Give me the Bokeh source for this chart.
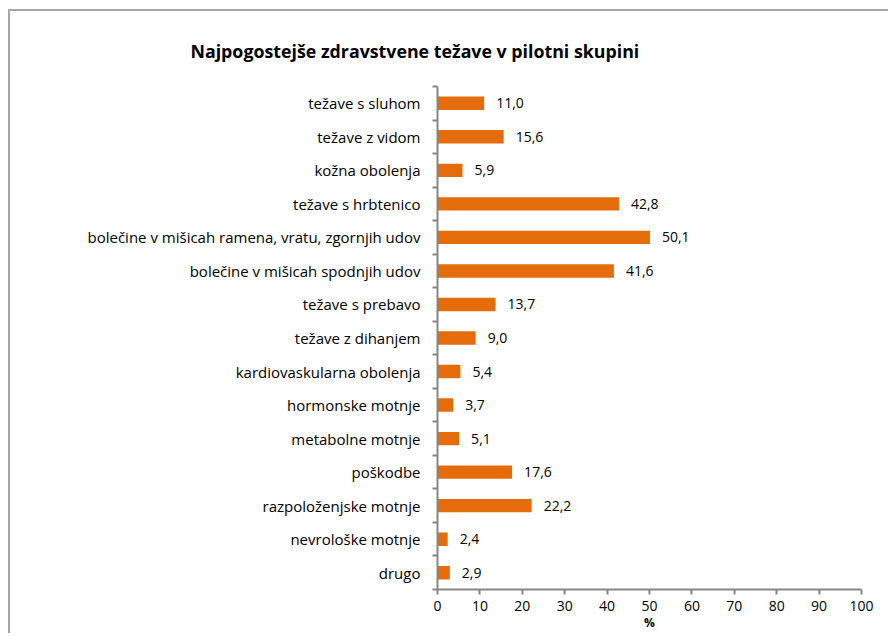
from bokeh.plotting import figure
from bokeh.models import FixedTicker, ColumnDataSource
from bokeh.core.properties import value
from bokeh.embed import file_html
from bokeh.resources import INLINE

categories = ["težave s sluhom", "težave z vidom", "kožna obolenja", "težave s hrbtenico",
              "bolečine v mišicah ramena, vratu, zgornjih udov", "bolečine v mišicah spodnjih udov",
              "težave s prebavo", "težave z dihanjem", "kardiovaskularna obolenja",
              "hormonske motnje", "metabolne motnje", "poškodbe", "razpoloženjske motnje",
              "nevrološke motnje", "drugo"]
values = [11.0, 15.6, 5.9, 42.8, 50.1, 41.6, 13.7, 9.0, 5.4, 3.7, 5.1, 17.6, 22.2, 2.4, 2.9]
x_ticks = [0, 10, 20, 30, 40, 50, 60, 70, 80, 90, 100]
title_text = "Najpogostejše zdravstvene težave v pilotni skupini"
x_label = "%"

FONT = "Open Sans"
n = len(categories)
ypos = [n - i - 0.5 for i in range(n)]
labels = [f"{v:.1f}".replace(".", ",") for v in values]

src = ColumnDataSource(dict(y=ypos, v=values, lab=labels, cat=categories))

p = figure(width=880, height=624, output_backend="svg", toolbar_location=None,
           x_range=(0, 100), y_range=(0, n), title=title_text,
           min_border_left=427, min_border_right=29, min_border_top=75, min_border_bottom=46)
p.outline_line_color = None
p.grid.grid_line_color = None
p.background_fill_color = "white"
p.border_fill_color = "white"
p.styles = {"border-top": "2px solid #a6a6a6", "border-left": "2px solid #a6a6a6",
            "margin-top": "9px", "margin-left": "8px"}

p.title.align = "left"
p.title.offset = -247
p.title.standoff = 48
p.title.text_font = FONT
p.title.text_font_style = "bold"
p.title.text_font_size = "17.8px"
p.title.text_color = "#000000"

p.hbar(y="y", right="v", left=0, height=0.4, source=src, fill_color="#E46C0A",
       line_color=None)
p.text(x="v", y="y", text="lab", source=src, x_offset=12, text_baseline="middle",
       text_align="left", text_font=value(FONT), text_font_size="14px", text_color="#000000")

# x axis
xa = p.xaxis[0]
xa.ticker = FixedTicker(ticks=x_ticks, minor_ticks=[])
xa.axis_line_color = "#868686"
xa.axis_line_width = 2
xa.major_tick_line_color = "#868686"
xa.major_tick_line_width = 2
xa.major_tick_in = 0
xa.major_tick_out = 5
xa.minor_tick_line_color = None
xa.major_label_text_font = FONT
xa.major_label_text_font_size = "14px"
xa.major_label_text_color = "#000000"
xa.major_label_standoff = 6
xa.axis_label = x_label
xa.axis_label_text_font = FONT
xa.axis_label_text_font_style = "bold"
xa.axis_label_text_font_size = "12px"
xa.axis_label_standoff = 0
xa.axis_label_text_color = "#000000"

# y axis
ya = p.yaxis[0]
ya.ticker = FixedTicker(ticks=ypos, minor_ticks=list(range(n + 1)))
ya.major_label_overrides = {y: c for y, c in zip(ypos, categories)}
ya.axis_line_color = "#868686"
ya.axis_line_width = 2
ya.major_tick_line_color = None
ya.major_tick_in = 0
ya.major_tick_out = 0
ya.minor_tick_line_color = "#868686"
ya.minor_tick_line_width = 2
ya.minor_tick_in = 0
ya.minor_tick_out = 5
ya.major_label_text_font = FONT
ya.major_label_text_font_size = "15px"
ya.major_label_text_color = "#000000"
ya.major_label_standoff = 12

open("out.html", "w").write(file_html(p, INLINE))
